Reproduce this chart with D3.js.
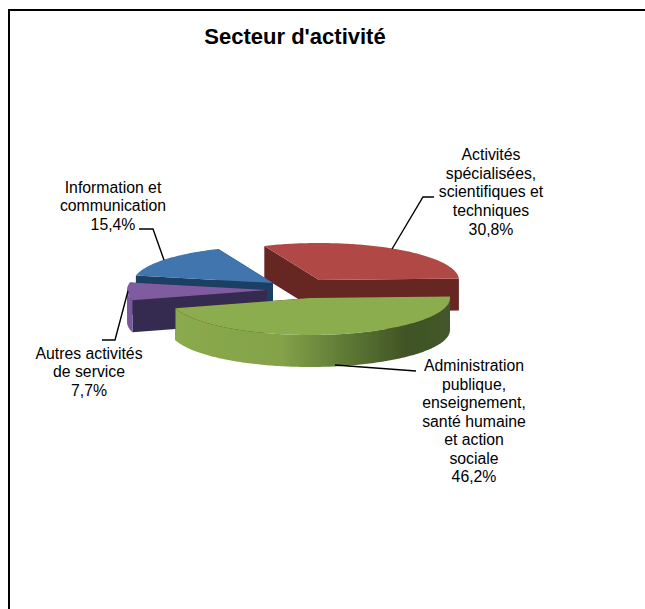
<!DOCTYPE html>
<html><head><meta charset="utf-8">
<script src="https://cdn.jsdelivr.net/npm/d3@7/dist/d3.min.js"></script>
<style>html,body{margin:0;padding:0;background:#fff}svg{display:block}
text{font-family:"Liberation Sans",Arial,sans-serif;fill:#000}</style></head>
<body><div id="c"></div>
<script>
const categories=["Activités spécialisées, scientifiques et techniques","Administration publique, enseignement, santé humaine et action sociale","Autres activités de service","Information et communication"];
const values=[30.8,46.2,7.7,15.4];
const valueLabels=["30,8%","46,2%","7,7%","15,4%"];
const topColors=["#b04a45","#8cad4e","#7f5b9f","#3f74ae"];
const cutColors=["#662624","#5f201d","#352a50","#1f3f63"];
const chartTitle="Secteur d'activité";

const W=645,H=609,rx=140,ry=37,depth=32;
const toRad=Math.PI/180;
// exploded slice apex offsets, render order and label layout
const apex=[[319,280],[310,298],[267,290],[273,283]];
const drawOrder=[0,3,2,1];
const labelLines=[
 ["Activités","spécialisées,","scientifiques et","techniques","30,8%"],
 ["Administration","publique,","enseignement,","santé humaine","et action","sociale","46,2%"],
 ["Autres activités","de service","7,7%"],
 ["Information et","communication","15,4%"]];
const labelPos=[[491,160],[474,371],[89,359],[113,193]];
const lineH=[18.7,18.5,18.4,18.4];
const leaders=[
 [[392,249],[423,197],[434,197]],
 [[335,365],[416,371]],
 [[128,291],[115,340],[102,340]],
 [[164,260],[153,229],[139,229]]];

const svg=d3.select("#c").append("svg").attr("width",W).attr("height",H);
svg.append("rect").attr("width",W).attr("height",H).attr("fill","#fff");
svg.append("path").attr("d",d3.line()([[W,10],[9,10],[9,H]])).attr("fill","none").attr("stroke","#000").attr("stroke-width",2);

const defs=svg.append("defs");
function grad(id,x1,x2,stops){
 const g=defs.append("linearGradient").attr("id",id).attr("gradientUnits","userSpaceOnUse")
  .attr("x1",x1).attr("x2",x2).attr("y1",0).attr("y2",0);
 stops.forEach(s=>g.append("stop").attr("offset",s[0]).attr("stop-color",s[1]));
}
grad("rim1",320,459,[[0,"#6a2522"],[1,"#62211e"]]);
grad("rim2",175,449,[[0,"#8aaa4d"],[.38,"#84a34a"],[.62,"#5f7a36"],[.85,"#3f5325"],[1,"#43582a"]]);
grad("rim3",125,140,[[0,"#7d5ca0"],[1,"#6f5090"]]);
grad("rim4",135,230,[[0,"#2a5280"],[1,"#2a5280"]]);

const pie=d3.pie().value(d=>d).sort(null).startAngle(-23*toRad).endAngle(337*toRad);
const arcs=pie(values);
const sx=d3.scaleLinear().domain([-1,1]).range([-rx,rx]);
const sy=d3.scaleLinear().domain([-1,1]).range([-ry,ry]);
const line=d3.line();
function rim(d,i,dy){
 const n=Math.max(8,Math.round((d.endAngle-d.startAngle)/toRad));
 return d3.range(n+1).map(k=>{
  const a=d.startAngle+(d.endAngle-d.startAngle)*k/n;
  return [apex[i][0]+sx(Math.sin(a)),apex[i][1]-sy(Math.cos(a))+dy];
 });
}
const g=svg.append("g").attr("filter","url(#soft)");
defs.append("filter").attr("id","soft").append("feGaussianBlur").attr("stdDeviation",0.5);
drawOrder.forEach(i=>{
 const d=arcs[i],top=rim(d,i,0),bot=rim(d,i,depth),c=[apex[i],[apex[i][0],apex[i][1]+depth]];
 // cut faces
 [top[0],top[top.length-1]].forEach((p,k)=>{
  const q=k?bot[bot.length-1]:bot[0];
  g.append("path").attr("d",line([apex[i],p,q,c[1]])+"Z").attr("fill",cutColors[i]);
 });
 // outer rim, visible for the front half only
 const frontA=top.map((p,k)=>k).filter(k=>{
  const a=d.startAngle+(d.endAngle-d.startAngle)*k/(top.length-1);
  return Math.cos(a)<=0.02;});
 if(frontA.length>1){
  const t=frontA.map(k=>top[k]),b=frontA.map(k=>bot[k]).reverse();
  g.append("path").attr("d",line(t.concat(b))+"Z").attr("fill",`url(#rim${i+1})`);
 }
 g.append("path").attr("d",line([apex[i]].concat(top))+"Z").attr("fill",topColors[i]);
});

leaders.forEach(l=>svg.append("path").attr("d",line(l)).attr("fill","none").attr("stroke","#000").attr("stroke-width",1.4));

labelLines.forEach((ls,i)=>{
 const t=svg.append("text").attr("text-anchor","middle").attr("font-size",15.8);
 ls.forEach((s,k)=>t.append("tspan").attr("x",labelPos[i][0]).attr("y",labelPos[i][1]+k*lineH[i]).text(s));
});
svg.append("text").attr("x",295).attr("y",44).attr("text-anchor","middle").attr("font-size",22).attr("font-weight","bold").text(chartTitle);
</script></body></html>
